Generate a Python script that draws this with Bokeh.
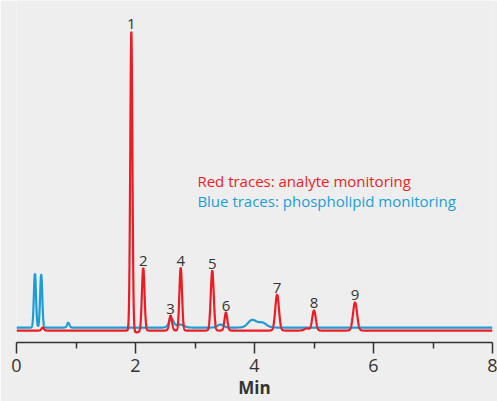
import numpy as np
from bokeh.plotting import figure
from bokeh.models import Range1d, FixedTicker, ColumnDataSource
from bokeh.core.properties import value
from bokeh.embed import file_html
from bokeh.resources import INLINE

# ---- data (retention time in min, relative height, peak sigma) ----
red_rt = [1.93, 2.13, 2.59, 2.76, 3.29, 3.52, 4.38, 5.00, 5.69]
red_height = [100.0, 21.0, 5.0, 21.0, 20.0, 6.0, 12.0, 6.7, 9.4]
red_sigma = [0.018, 0.022, 0.024, 0.022, 0.025, 0.024, 0.031, 0.030, 0.034]
peak_labels = ["1", "2", "3", "4", "5", "6", "7", "8", "9"]

red_minor_rt = [0.44, 2.02, 4.88]
red_minor_height = [1.0, -0.6, 0.7]
red_minor_sigma = [0.02, 0.05, 0.04]

blue_offset = 1.0
blue_rt = [0.31, 0.415, 0.87, 2.60, 2.75, 3.43, 3.96, 4.13]
blue_height = [18.0, 17.7, 1.6, 3.0, 1.0, 1.0, 2.5, 1.6]
blue_sigma = [0.018, 0.018, 0.02, 0.04, 0.06, 0.05, 0.07, 0.07]

x_ticks = [0, 2, 4, 6, 8]
x_minor_ticks = [1, 3, 5, 7]
x_title = "Min"

RED = "#ed1c24"
BLUE = "#1c9dd8"
BG = "#eeeeee"
DARK = "#333333"

# ---- traces built from the peak tables ----
t = np.linspace(0, 8, 4001)

def trace(rts, hs, ss, base=0.0):
    y = np.full_like(t, base)
    for rt, h, s in zip(rts, hs, ss):
        y += h * np.exp(-0.5 * ((t - rt) / s) ** 2)
    return y

red_y = trace(red_rt + red_minor_rt, red_height + red_minor_height, red_sigma + red_minor_sigma)
blue_y = trace(blue_rt, blue_height, blue_sigma, base=blue_offset)

p = figure(width=497, height=401, output_backend="svg", toolbar_location=None,
           x_range=Range1d(0, 8), y_range=Range1d(-4.0, 110.3),
           min_border_left=16, min_border_right=5, min_border_top=0, min_border_bottom=58,
           background_fill_color=BG, border_fill_color=BG)
p.outline_line_color = None
p.grid.visible = False
p.yaxis.visible = False

p.line(t, blue_y, line_color=BLUE, line_width=2.2)
p.line(t, red_y, line_color=RED, line_width=2.2)

src = ColumnDataSource(dict(x=red_rt, y=red_height, text=peak_labels))
p.text(x="x", y="y", text="text", source=src, y_offset=-2,
       text_align="center", text_baseline="bottom",
       text_font=value("Open Sans"), text_font_size="15px", text_color=DARK)

p.text(x=[3.04], y=[50.0], text=["Red traces: analyte monitoring"],
       text_align="left", text_baseline="middle",
       text_font=value("Open Sans"), text_font_size="15px", text_color=RED)
p.text(x=[3.04], y=[43.3], text=["Blue traces: phospholipid monitoring"],
       text_align="left", text_baseline="middle",
       text_font=value("Open Sans"), text_font_size="15px", text_color=BLUE)

ax = p.xaxis[0]
ax.ticker = FixedTicker(ticks=x_ticks, minor_ticks=x_minor_ticks)
ax.axis_line_color = DARK
ax.axis_line_width = 1.5
ax.major_tick_line_color = DARK
ax.major_tick_line_width = 1.5
ax.minor_tick_line_color = DARK
ax.minor_tick_line_width = 1.5
ax.major_tick_in = 0
ax.major_tick_out = 11
ax.minor_tick_in = 0
ax.minor_tick_out = 6
ax.major_label_standoff = 5
ax.major_label_text_font = "Open Sans"
ax.major_label_text_font_size = "18px"
ax.major_label_text_color = DARK
ax.axis_label = x_title
ax.axis_label_standoff = 1
ax.axis_label_text_font = "Open Sans"
ax.axis_label_text_font_size = "17px"
ax.axis_label_text_font_style = "bold"
ax.axis_label_text_color = DARK

open("out.html", "w").write(file_html(p, INLINE))
